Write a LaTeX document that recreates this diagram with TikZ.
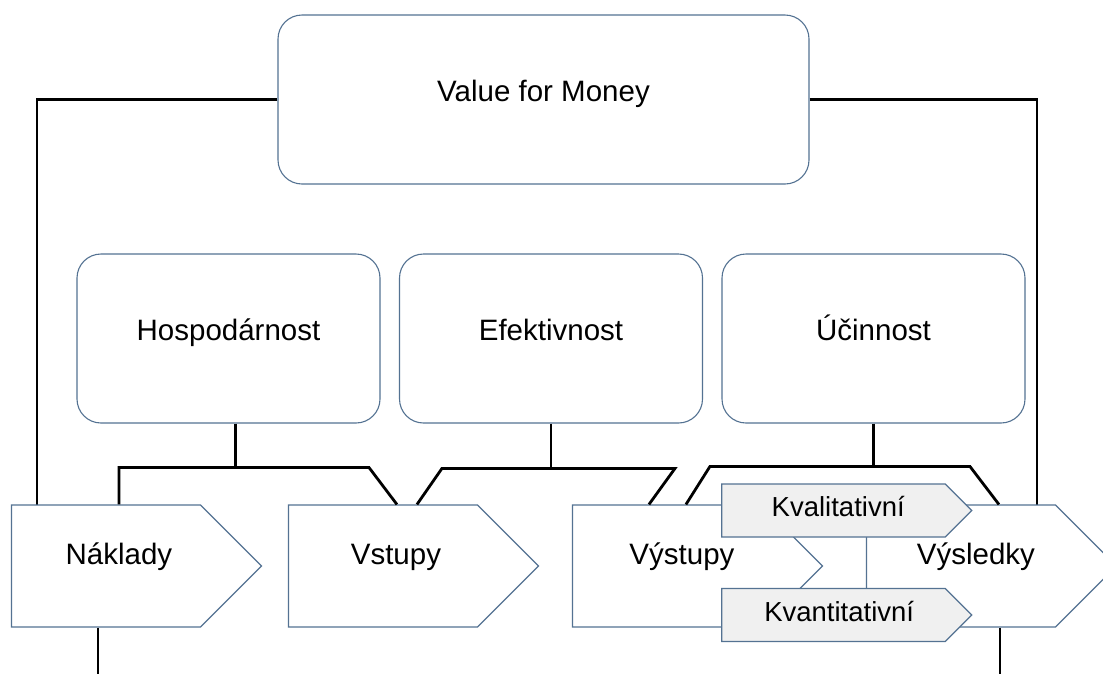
\documentclass[tikz,border=0pt]{standalone}
\usepackage{fontspec}
\setmainfont{Liberation Sans}
\usetikzlibrary{shapes.symbols}
\definecolor{edge}{RGB}{84,114,146}
\definecolor{shade}{RGB}{240,240,240}
\tikzset{rbox/.style={draw=edge, line width=1.1pt, rounded corners=24pt, fill=white, text height=10pt, text depth=7pt, font=\fontsize{29.5}{34}\selectfont},
  chev/.style={signal, signal to=east, signal from=nowhere, signal pointer angle=90, draw=edge, line width=1.1pt, fill=white, minimum width=250pt, minimum height=122pt, inner sep=0pt},
  subchev/.style={chev, fill=shade, minimum height=53pt},
  link/.style={black, line width=2.8pt},
  lbl/.style={anchor=base, inner sep=0pt, font=\fontsize{29.5}{34}\selectfont},
  sublbl/.style={lbl, font=\fontsize{27.5}{32}\selectfont}}

\begin{document}
\begin{tikzpicture}[x=1pt,y=-1pt]
   \path[use as bounding box, fill=white] (0,0) rectangle (1103,673);
   % boxes
   \node[rbox, minimum width=531pt, minimum height=169pt] (vfm) at (543.5,99.5) {Value for Money};
   \node[rbox, minimum width=303pt, minimum height=169pt] (hosp) at (228.5,338.5) {Hospodárnost};
   \node[rbox, minimum width=303pt, minimum height=169pt] (efek) at (551,338.5) {Efektivnost};
   \node[rbox, minimum width=303pt, minimum height=169pt] (ucin) at (873.5,338.5) {Účinnost};
   % connectors
   \draw[link] (vfm.west) -| (37,505);
   \draw[link] (vfm.east) -| (1037,505);
   \draw[link] ([xshift=7pt]hosp.south) -- ++(0,45);
   \draw[link] (efek.south) -- ++(0,46);
   \draw[link] (ucin.south) -- ++(0,44);
   % chevrons
   \node[chev] (nakl) at (106,566) {};
   \node[chev] (vstu) at (383,566) {};
   \node[chev] (vyst) at (667,566) {};
   \node[chev] (vysl) at (961,566) {};
   \node[subchev] (kval) at (833.5,510.5) {};
   \node[subchev] (kvan) at (833.5,615) {};
   \node[lbl] (nakl-t) at ([xshift=108pt,yshift=2pt]nakl.west) {Náklady};
   \node[lbl] (vstu-t) at ([xshift=108pt,yshift=2pt]vstu.west) {Vstupy};
   \node[lbl] (vyst-t) at ([xshift=110pt,yshift=2pt]vyst.west) {Výstupy};
   \node[lbl] (vysl-t) at ([xshift=110pt,yshift=2pt]vysl.west) {Výsledky};
   \node[sublbl] (kval-t) at ([xshift=117pt,yshift=-5.5pt]kval.west) {Kvalitativní};
   \node[sublbl] (kvan-t) at ([xshift=118pt,yshift=-6pt]kvan.west) {Kvantitativní};
   % branches
   \draw[link] ([xshift=108pt]nakl.north west) -- ++(0,-37) -- ++(250,0) -- ([xshift=109pt]vstu.north west);
   \draw[link] ([xshift=129pt]vstu.north west) -- ++(25,-36) -- ++(233,0) -- ([xshift=77pt]vyst.north west);
   \draw[link] ([xshift=114pt]vyst.north west) -- ++(24,-38) -- ++(260,0) -- ([xshift=133pt]vysl.north west);
   \draw[link] ([xshift=87pt]nakl.south west) -- ++(0,46);
   \draw[link] ([xshift=134pt]vysl.south west) -- ++(0,46);
\end{tikzpicture}
\end{document}
